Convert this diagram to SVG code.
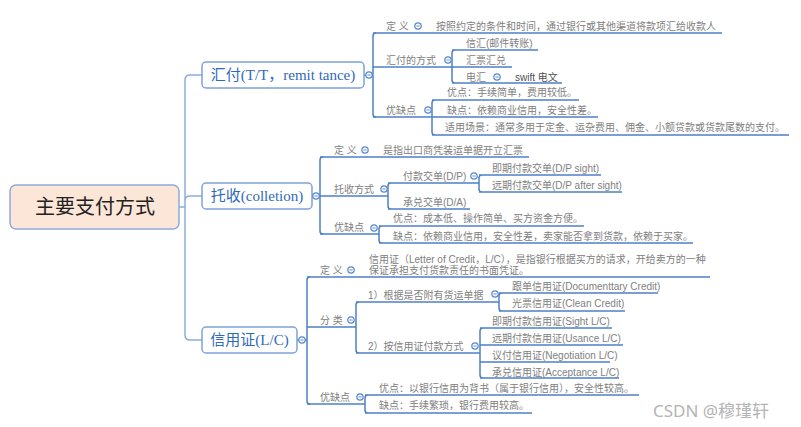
<svg xmlns="http://www.w3.org/2000/svg" xmlns:xlink="http://www.w3.org/1999/xlink" width="801" height="427" viewBox="0 0 801 427">
<style>
.root{fill:#fce6d7;stroke:#8eaadb;stroke-width:1.5}
.roott{font-family:"Liberation Serif","Noto Sans CJK SC",serif;font-size:20px;fill:#222;text-anchor:middle}
.l1{fill:#fff;stroke:#7ea3d8;stroke-width:1.5}
.l1t{font-family:"Liberation Serif","Noto Sans CJK SC",serif;font-size:15px;fill:#2f6ab8;text-anchor:middle}
.t{font-family:"Liberation Sans","Noto Sans CJK SC",sans-serif;font-size:10px;fill:#808080}
.dk{fill:#505050}
.tr{stroke:#8aaedd;stroke-width:1.5;fill:none}
.ln{stroke:#4d80c8;stroke-width:1.5;fill:none}
.wm{font-family:"Noto Sans","Noto Sans CJK SC",sans-serif;font-size:17px;fill:#b4b4b4}
</style>
<defs>
<g id="col"><circle r="3.2" fill="#fff" stroke="#5a8ad0" stroke-width="1.2"/><line x1="-1.6" x2="1.6" y1="0" y2="0" stroke="#5a8ad0" stroke-width="1"/></g>
</defs>

<g id="connectors">
<!-- level 1 trunk -->
<path class="tr" d="M179 207 H185 M202 75 H190 Q185 75 185 80 V335 Q185 340 190 340 H202 M185 201 Q185 196 190 196 H202"/>
<!-- 汇付 -->
<path class="ln" d="M364 75 H373 M376 33 Q373 33 373 36 V114 Q373 117 376 117"/>
<path class="ln" d="M373 33 H722 M373 67 H452 M373 117 H432"/>
<path class="ln" d="M455 50 Q452 50 452 53 V80 Q452 83 455 83 M452 50 H538 M452 67 H512 M452 83 H562"/>
<path class="ln" d="M435 100 Q432 100 432 103 V132 Q432 135 435 135 M432 100 H579 M432 117 H598 M432 135 H789"/>
<!-- 托收 -->
<path class="ln" d="M312 196 H320 M323 157 Q320 157 320 160 V231 Q320 234 323 234"/>
<path class="ln" d="M320 157 H529 M320 196 H388 M320 234 H379"/>
<path class="ln" d="M391 183 Q388 183 388 186 V206 Q388 209 391 209 M388 183 H479 M388 209 H470"/>
<path class="ln" d="M482 175 Q479 175 479 178 V189 Q479 192 482 192 M479 175 H601 M479 192 H622"/>
<path class="ln" d="M382 226 Q379 226 379 229 V240 Q379 243 382 243 M379 226 H584 M379 243 H693"/>
<!-- 信用证 -->
<path class="ln" d="M297 340 H307 M310 277 Q307 277 307 280 V401 Q307 404 310 404"/>
<path class="ln" d="M307 277 H710 M307 327 H356 M307 404 H365"/>
<path class="ln" d="M359 302 Q356 302 356 305 V350 Q356 353 359 353 M356 302 H499 M356 353 H480"/>
<path class="ln" d="M502 293 Q499 293 499 296 V308 Q499 311 502 311 M499 293 H658 M499 311 H625"/>
<path class="ln" d="M483 328 Q480 328 480 331 V375 Q480 378 483 378 M480 328 H612 M480 345 H623 M480 362 H610 M480 378 H619"/>
<path class="ln" d="M368 395 Q365 395 365 398 V410 Q365 413 368 413 M365 395 H639 M365 413 H532"/>
</g>

<g id="root">
<rect class="root" x="10" y="185" width="169" height="44" rx="6"/>
<text class="roott" x="95" y="214">主要支付方式</text>
</g>

<g id="remit">
<rect class="l1" x="202" y="62" width="162" height="26" rx="4"/>
<text class="l1t" x="283" y="80">汇付(T/T，remit tance)</text>
<use xlink:href="#col" x="369" y="75"/>
</g>
<g id="remit-def">
<text class="t" x="386" y="29.5">定 义</text>
<use xlink:href="#col" x="418" y="26"/>
<text class="t" x="436" y="29.5">按照约定的条件和时间，通过银行或其他渠道将款项汇给收款人</text>
</g>
<g id="remit-way">
<text class="t" x="386" y="63.5">汇付的方式</text>
<use xlink:href="#col" x="448" y="60"/>
<text class="t" x="466" y="46.5">信汇(邮件转账)</text>
<text class="t" x="466" y="63.5">汇票汇兑</text>
<text class="t" x="466" y="80.5">电汇</text>
<use xlink:href="#col" x="497" y="77"/>
<text class="t dk" x="515" y="80.5">swift 电文</text>
</g>
<g id="remit-pc">
<text class="t" x="386" y="113.5">优缺点</text>
<use xlink:href="#col" x="428" y="110"/>
<text class="t" x="447" y="95.5">优点：手续简单，费用较低。</text>
<text class="t" x="447" y="113.5">缺点：依赖商业信用，安全性差。</text>
<text class="t" x="445" y="130.5">适用场景：通常多用于定金、运杂费用、佣金、小额贷款或货款尾数的支付。</text>
</g>

<g id="collection">
<rect class="l1" x="202" y="183" width="110" height="26" rx="4"/>
<text class="l1t" x="257" y="201">托收(colletion)</text>
<use xlink:href="#col" x="316" y="196"/>
</g>
<g id="coll-def">
<text class="t" x="334" y="153.5">定 义</text>
<use xlink:href="#col" x="365" y="150"/>
<text class="t" x="383" y="153.5">是指出口商凭装运单据开立汇票</text>
</g>
<g id="coll-way">
<text class="t" x="334" y="192.5">托收方式</text>
<use xlink:href="#col" x="384" y="189"/>
<text class="t" x="403" y="179.5">付款交单(D/P)</text>
<use xlink:href="#col" x="474" y="176"/>
<text class="t" x="492" y="171.5">即期付款交单(D/P sight)</text>
<text class="t" x="492" y="188.5">远期付款交单(D/P after sight)</text>
<text class="t" x="403" y="205.5">承兑交单(D/A)</text>
</g>
<g id="coll-pc">
<text class="t" x="334" y="230.5">优缺点</text>
<use xlink:href="#col" x="374" y="228"/>
<text class="t" x="393" y="221.5">优点：成本低、操作简单、买方资金方便。</text>
<text class="t" x="393" y="239.5">缺点：依赖商业信用，安全性差，卖家能否拿到货款，依赖于买家。</text>
</g>

<g id="lc">
<rect class="l1" x="202" y="327" width="95" height="26" rx="4"/>
<text class="l1t" x="249.5" y="345">信用证(L/C)</text>
<use xlink:href="#col" x="302" y="340"/>
</g>
<g id="lc-def">
<text class="t" x="320" y="273.5">定 义</text>
<use xlink:href="#col" x="351" y="270"/>
<text class="t" x="369" y="262.5">信用证（Letter of Credit，L/C），是指银行根据买方的请求，开给卖方的一种</text>
<text class="t" x="369" y="273.5">保证承担支付货款责任的书面凭证。</text>
</g>
<g id="lc-type">
<text class="t" x="320" y="323.5">分 类</text>
<use xlink:href="#col" x="351" y="320"/>
<text class="t" x="368" y="298.5">1）根据是否附有货运单据</text>
<use xlink:href="#col" x="495" y="294"/>
<text class="t" x="512" y="289.5">跟单信用证(Documenttary Credit)</text>
<text class="t" x="512" y="306.5">光票信用证(Clean Credit)</text>
<text class="t" x="368" y="349.5">2）按信用证付款方式</text>
<use xlink:href="#col" x="475" y="346"/>
<text class="t" x="492" y="324.5">即期付款信用证(Sight L/C)</text>
<text class="t" x="492" y="341.5">远期付款信用证(Usance L/C)</text>
<text class="t" x="492" y="358.5">议付信用证(Negotiation L/C)</text>
<text class="t" x="492" y="375.5">承兑信用证(Acceptance L/C)</text>
</g>
<g id="lc-pc">
<text class="t" x="320" y="400.5">优缺点</text>
<use xlink:href="#col" x="360" y="397"/>
<text class="t" x="379" y="391.5">优点：以银行信用为背书（属于银行信用），安全性较高。</text>
<text class="t" x="379" y="408.5">缺点：手续繁琐，银行费用较高。</text>
</g>

<text class="wm" x="653" y="417">CSDN @穆瑾轩</text>
</svg>
